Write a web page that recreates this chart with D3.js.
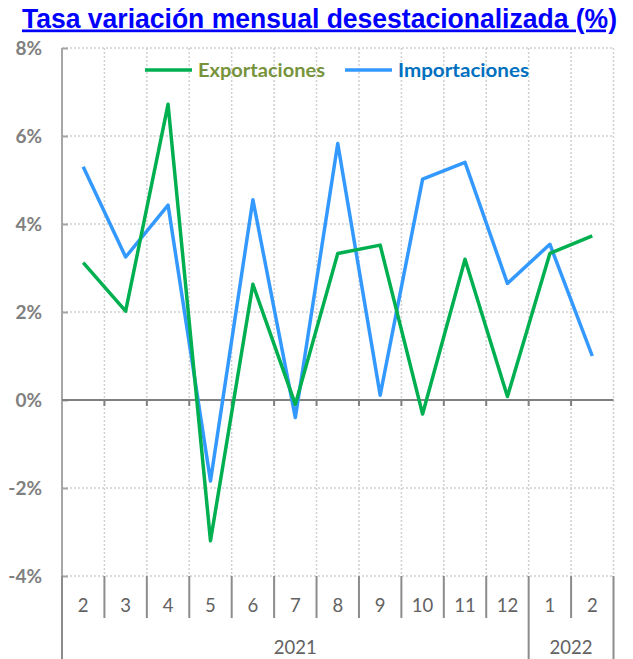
<!DOCTYPE html>
<html><head><meta charset="utf-8">
<script src="https://cdn.jsdelivr.net/npm/d3@7"></script>
<style>body{margin:0;background:#fff}svg{display:block}</style>
</head><body>
<svg id="c" width="633" height="659"></svg>
<script>
const months = ["2","3","4","5","6","7","8","9","10","11","12","1","2"];
const years = [{label:"2021", start:0, end:11},{label:"2022", start:11, end:13}];
const exportaciones = [3.12, 2.02, 6.72, -3.2, 2.63, -0.1, 3.33, 3.52, -0.32, 3.2, 0.08, 3.33, 3.73];
const importaciones = [5.3, 3.25, 4.43, -1.84, 4.55, -0.4, 5.83, 0.11, 5.02, 5.4, 2.65, 3.54, 1.0];
const yTicks = [-4, -2, 0, 2, 4, 6, 8];

const svg = d3.select("#c");
const L = 62, R = 613.5, T = 48, B = 576;
const idx = d3.range(months.length);
const x = d3.scaleBand().domain(idx).range([L, R]).padding(0);
const y = d3.scaleLinear().domain([-4, 8]).range([B, T]);
const cx = i => x(i) + x.bandwidth() / 2;
const xb = d => d < months.length ? x(d) : R;

// title
svg.append("text").attr("x", 22).attr("y", 27.5).attr("text-anchor", "start")
  .attr("font-family", "Liberation Sans, Arial, sans-serif").attr("font-weight", "bold")
  .attr("font-size", 27).attr("fill", "#0000FF").attr("text-decoration", "underline")
  .attr("textLength", 595).attr("lengthAdjust", "spacingAndGlyphs")
  .text("Tasa variación mensual desestacionalizada (%)");

// horizontal grid (dotted)
svg.append("g").selectAll("line").data(yTicks.filter(d => d !== 0)).join("line")
  .attr("x1", L).attr("x2", R).attr("y1", d => y(d)).attr("y2", d => y(d))
  .attr("stroke", "#D0D0D0").attr("stroke-width", 1.5).attr("stroke-dasharray", "2,2");
// vertical grid (dotted) at category boundaries
svg.append("g").selectAll("line").data(idx.slice(1).concat([months.length])).join("line")
  .attr("x1", xb).attr("x2", xb)
  .attr("y1", T).attr("y2", B)
  .attr("stroke", "#D0D0D0").attr("stroke-width", 1.5).attr("stroke-dasharray", "2,2");

// y axis
const yAxis = d3.axisLeft(y).tickValues(yTicks).tickSize(-6).tickFormat(d => d + "%");
const gy = svg.append("g").attr("transform", `translate(${L},0)`).call(yAxis);
gy.select(".domain").remove();
gy.selectAll(".tick line").attr("stroke", "#A6A6A6").attr("stroke-width", 2);
gy.selectAll(".tick text").attr("x", -20).attr("dy", "0.36em")
  .attr("font-family", "Lato, 'Open Sans', sans-serif").attr("font-weight", "bold")
  .attr("font-size", 19).attr("fill", "#808080");
svg.append("line").attr("x1", L).attr("x2", L).attr("y1", T).attr("y2", 659)
  .attr("stroke", "#A6A6A6").attr("stroke-width", 2);

// zero axis with ticks
svg.append("line").attr("x1", L).attr("x2", R).attr("y1", y(0)).attr("y2", y(0))
  .attr("stroke", "#808080").attr("stroke-width", 2);
svg.append("g").selectAll("line").data(idx.slice(1)).join("line")
  .attr("x1", d => x(d)).attr("x2", d => x(d)).attr("y1", y(0)).attr("y2", y(0) + 6)
  .attr("stroke", "#808080").attr("stroke-width", 2);

// category labels (bottom)
const gx = svg.append("g");
gx.selectAll("line.m").data(idx.slice(1).filter(d => !years.some(yr => yr.start === d))).join("line")
  .attr("x1", d => x(d)).attr("x2", d => x(d)).attr("y1", B).attr("y2", 618)
  .attr("stroke", "#8C8C8C").attr("stroke-width", 2);
const yearBounds = [years[0].start].concat(years.map(yr => yr.end));
gx.selectAll("line.y").data(yearBounds).join("line")
  .attr("x1", xb).attr("x2", xb)
  .attr("y1", B).attr("y2", 659)
  .attr("stroke", "#8C8C8C").attr("stroke-width", 2);
gx.selectAll("text.m").data(idx).join("text")
  .attr("x", d => cx(d)).attr("y", 612).attr("text-anchor", "middle")
  .attr("font-family", "Lato, 'Open Sans', sans-serif").attr("font-size", 18.5).attr("fill", "#626262")
  .text(d => months[d]);
gx.selectAll("text.y").data(years).join("text")
  .attr("x", d => (x(d.start) + xb(d.end)) / 2).attr("y", 654)
  .attr("text-anchor", "middle")
  .attr("font-family", "Lato, 'Open Sans', sans-serif").attr("font-size", 18.5).attr("fill", "#626262")
  .text(d => d.label);

// lines
const line = d3.line().x((d, i) => cx(i)).y(d => y(d));
svg.append("path").datum(importaciones).attr("d", line).attr("fill", "none")
  .attr("stroke", "#3399FF").attr("stroke-width", 3.5).attr("stroke-linejoin", "round");
svg.append("path").datum(exportaciones).attr("d", line).attr("fill", "none")
  .attr("stroke", "#00B050").attr("stroke-width", 3.5).attr("stroke-linejoin", "round");

// legend
const leg = [{name:"Exportaciones", color:"#00B050", text:"#77933C", x:145, w:127},
             {name:"Importaciones", color:"#3399FF", text:"#0070C0", x:345, w:131}];
const lg = svg.append("g").selectAll("g").data(leg).join("g");
lg.append("line").attr("x1", d => d.x).attr("x2", d => d.x + 47).attr("y1", 70).attr("y2", 70)
  .attr("stroke", d => d.color).attr("stroke-width", 3.5);
lg.append("text").attr("x", d => d.x + 53).attr("y", 70).attr("dy", "0.36em")
  .attr("font-family", "Lato, 'Open Sans', sans-serif").attr("font-weight", "bold").attr("font-size", 19.5)
  .attr("textLength", d => d.w).attr("lengthAdjust", "spacingAndGlyphs")
  .attr("fill", d => d.text).text(d => d.name);
</script>
</body></html>
